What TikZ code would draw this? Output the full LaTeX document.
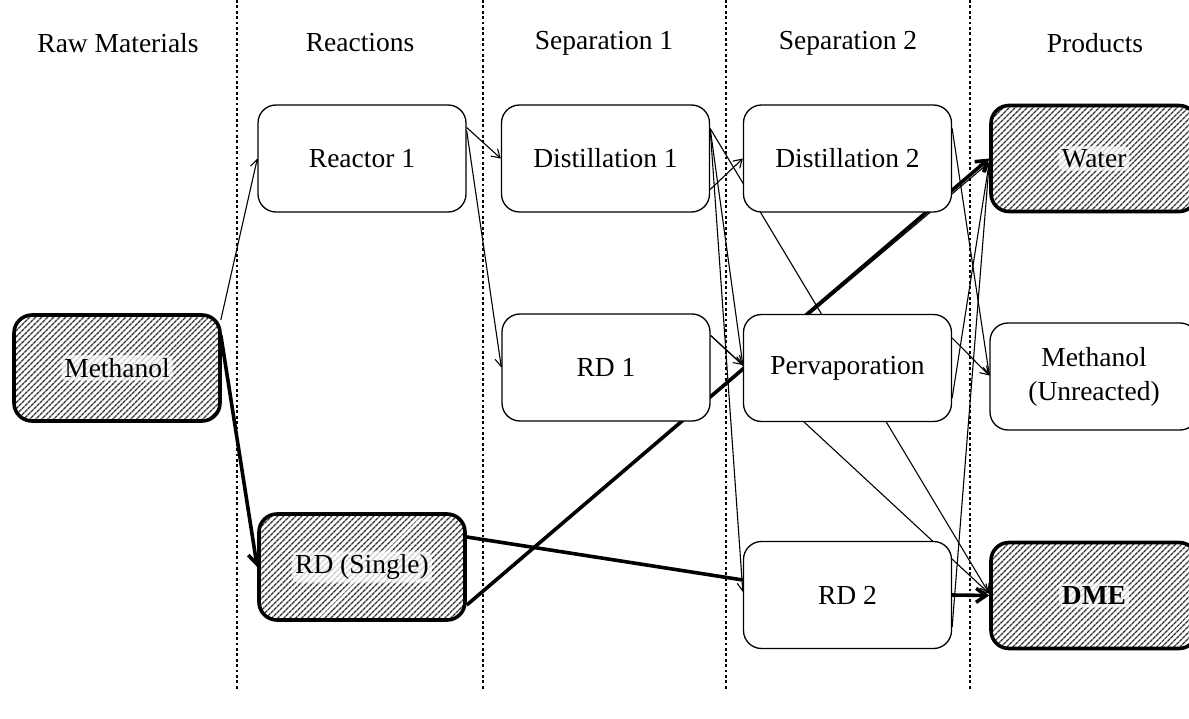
\documentclass[tikz,border=0pt]{standalone}
\usepackage{fontspec}
\setmainfont{Liberation Serif}
\usetikzlibrary{arrows.meta,patterns.meta,calc,backgrounds}
\begin{document}
\begin{tikzpicture}[x=1pt,y=-1pt,
  lbl/.style={font=\fontsize{27.5}{34}\selectfont, align=center},
  box/.style={lbl, draw, line width=1.3pt, rounded corners=18pt,
    minimum width=208pt, minimum height=107pt, fill=white, inner sep=0pt},
  hbox/.style={box, line width=3.6pt, minimum width=206pt, minimum height=106pt,
    preaction={fill=white},
    pattern={Lines[angle=45,distance=4pt,line width=1.6pt]}, pattern color=black!80},
  halo/.style={lbl, fill=white, fill opacity=.75, text opacity=1, inner sep=3pt, rounded corners=6pt},
  divider/.style={line width=2.8pt, dash pattern=on 2.8pt off 2.6pt},
  flow/.style={line width=1.1pt, -{Straight Barb[length=8pt,width=10pt]}},
  bold/.style={line width=3.6pt, -{Straight Barb[length=10pt,width=14pt]}},
  boldnotip/.style={line width=3.6pt}
]
\useasboundingbox (0,0) rectangle (1189,719);

% column dividers and headers
\foreach \x in {237,483,726,970} \draw[divider] (\x,0) -- (\x,690);
\node[lbl] (h1) at (118,43) {Raw Materials};
\node[lbl] (h2) at (360,43) {Reactions};
\node[lbl] (h3) at (604,43) {Separation 1};
\node[lbl] (h4) at (848,43) {Separation 2};
\node[lbl] (h5) at (1095,43) {Products};

% nodes
\node[hbox, label={[halo]center:Methanol}] (meth) at (117,368) {};
\node[box] (r1) at (362,158.5) {Reactor 1};
\node[hbox, label={[halo]center:RD (Single)}] (rds) at (362,567) {};
\node[box] (d1) at (605.5,158.5) {Distillation 1};
\node[box] (rd1) at (606,367.5) {RD 1};
\node[box] (d2) at (847.5,158.5) {Distillation 2};
\node[box] (perv) at (847.5,368) {Pervaporation};
\node[box] (rd2) at (847.5,595) {RD 2};
\node[hbox, label={[halo]center:Water}] (water) at (1094,158.5) {};
\node[box] (mu) at (1094,376.5) {Methanol\\(Unreacted)};
\node[hbox, label={[halo]center:\textbf{DME}}] (dme) at (1094,595.5) {};

% connectors
\begin{scope}[on background layer]
\draw[flow] ($(meth.east)+(0,-48)$) -- (r1.west);
\draw[bold] ($(meth.east)+(0,-33)$) -- (rds.west);
\draw[flow] ($(r1.east)+(0,-31)$) -- (d1.west);
\draw[flow] ($(r1.east)+(0,-28)$) -- (rd1.west);
\draw[flow] ($(d1.east)+(0,31)$) -- (d2.west);
\draw[flow] ($(d1.east)+(0,-30)$) -- ($(perv.west)+(0,-3)$);
\draw[flow] ($(d1.east)+(0,-30)$) -- ($(rd2.west)+(0,-3)$);
\draw[flow] ($(d1.east)+(0,-30)$) -- ($(dme.west)+(0,-2)$);
\draw[flow] ($(rd1.east)+(0,-32)$) -- ($(perv.west)+(0,-3)$);
\draw[flow] ($(rd1.east)+(0,-32)$) -- ($(dme.west)+(0,-2)$);
\draw[flow] ($(rd1.east)+(0,30)$) -- ($(water.west)+(0,4)$);
\draw[boldnotip] ($(rds.east)+(0,-30)$) -- ($(rd2.west)+(0,-15)$);
\draw[bold] ($(rds.east)+(0,38)$) -- (water.west);
\draw[flow] ($(d2.east)+(0,-30)$) -- ($(mu.west)+(0,-1)$);
\draw[flow] ($(perv.east)+(0,-30)$) -- ($(mu.west)+(0,-1)$);
\draw[flow] ($(perv.east)+(0,30)$) -- ($(water.west)+(0,4)$);
\draw[flow] ($(rd2.east)+(0,32)$) -- ($(water.west)+(0,4)$);
\draw[bold] (rd2.east) -- (dme.west);
\end{scope}
\end{tikzpicture}
\end{document}
